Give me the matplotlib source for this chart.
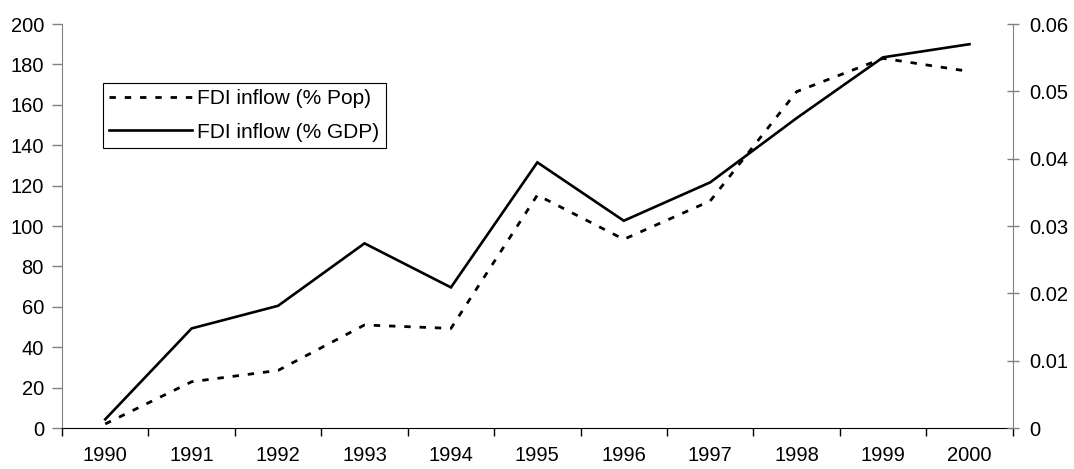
import matplotlib
matplotlib.use("Agg")
import matplotlib.pyplot as plt
import numpy as np
from matplotlib.ticker import FixedLocator, FuncFormatter

plt.rcParams['font.family'] = ['Liberation Sans', 'DejaVu Sans']

years = ["1990", "1991", "1992", "1993", "1994", "1995", "1996", "1997", "1998", "1999", "2000"]
fdi_pop = [2.0, 22.9, 28.5, 51.0, 49.3, 115.3, 93.4, 112.4, 166.5, 183.0, 176.5]
fdi_gdp = [0.00129, 0.01479, 0.01815, 0.02742, 0.02088, 0.03945, 0.03078,
           0.03648, 0.04602, 0.05505, 0.0570]
left_ticks = [0, 20, 40, 60, 80, 100, 120, 140, 160, 180, 200]
right_ticks = [0, 0.01, 0.02, 0.03, 0.04, 0.05, 0.06]

W, H = 1074, 469
fig = plt.figure(figsize=(W / 100, H / 100), dpi=100)
x0, x1, yb, yt = 62, 1012.7, 428, 24
ax = fig.add_axes([x0 / W, 1 - yb / H, (x1 - x0) / W, (yb - yt) / H])
ax2 = ax.twinx()

n = len(years)
xpos = np.arange(n) + 0.5

l1, = ax.plot(xpos, fdi_pop, color='black', lw=2.0, dashes=(2.3, 3.2),
              label='FDI inflow (% Pop)')
l2, = ax2.plot(xpos, fdi_gdp, color='black', lw=1.9, solid_joinstyle='miter',
               label='FDI inflow (% GDP)')

ax.set_xlim(0, n)
ax.set_ylim(0, 200)
ax2.set_ylim(0, 0.06)

fs = 14.5
ax.xaxis.set_major_locator(FixedLocator(np.arange(n + 1)))
ax.xaxis.set_minor_locator(FixedLocator(xpos))
ax.set_xticklabels([], minor=False)
ax.set_xticklabels(years, minor=True)
ax.tick_params(axis='x', which='major', direction='out', length=6, width=1, color='black')
ax.tick_params(axis='x', which='minor', length=0, pad=13, labelsize=fs)

ax.set_yticks(left_ticks)
ax.tick_params(axis='y', direction='out', length=7, width=1, color='#808080', pad=6,
               labelsize=fs)
ax2.set_yticks(right_ticks)
ax2.yaxis.set_major_formatter(FuncFormatter(lambda v, p: '0' if v == 0 else f'{v:.2f}'))
ax2.tick_params(axis='y', direction='inout', length=8, width=1, color='#808080', pad=8,
                labelsize=fs)

for a in (ax, ax2):
    a.spines['top'].set_visible(False)
    a.spines['left'].set_color('#808080')
    a.spines['right'].set_color('#808080')
    a.spines['bottom'].set_color('black')
ax.spines['right'].set_visible(False)
ax2.spines['left'].set_visible(False)
ax2.spines['bottom'].set_visible(False)

leg = ax2.legend(handles=[l1, l2], loc='upper left',
                 bbox_to_anchor=(0.0428, 0.8547), borderaxespad=0,
                 fontsize=15, handlelength=4.0, handletextpad=0.25,
                 fancybox=False, framealpha=1, edgecolor='black',
                 borderpad=0.3, labelspacing=0.7)
leg.get_frame().set_linewidth(0.8)

fig.savefig('out.png', dpi=100, facecolor='white')
